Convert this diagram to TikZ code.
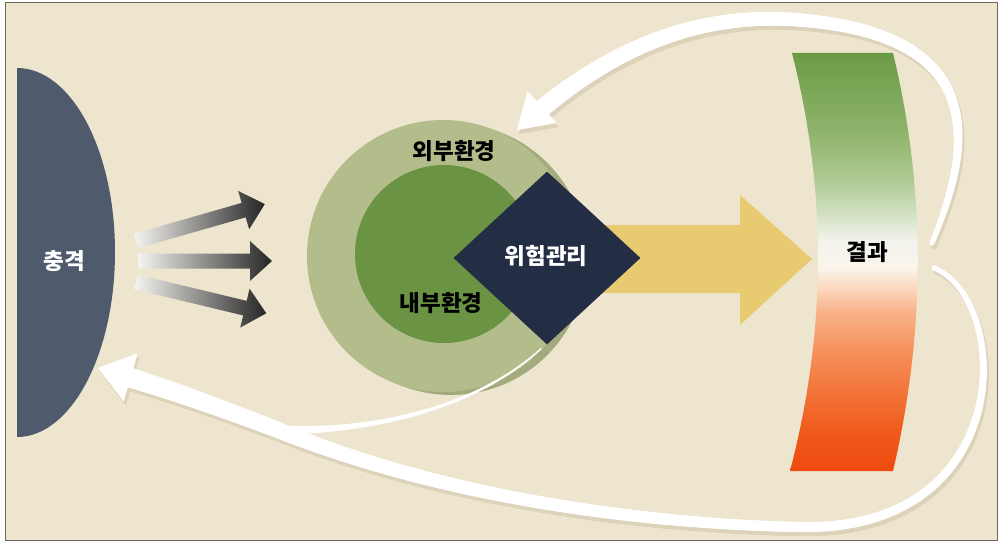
\documentclass[tikz,border=0pt]{standalone}
\usepackage{fontspec}
\newfontfamily\kr{Noto Sans CJK KR}
\usetikzlibrary{shapes.geometric,arrows.meta,decorations.markings}
\definecolor{bgc}{HTML}{EEE5CF}
\definecolor{framec}{HTML}{6E675C}
\definecolor{shockc}{HTML}{4F5B6D}
\definecolor{shockL}{HTML}{F6F4EF}
\definecolor{shockR}{HTML}{262626}
\definecolor{outerc}{HTML}{B3BD8B}
\definecolor{outershc}{HTML}{A3AA7C}
\definecolor{innerc}{HTML}{6A9343}
\definecolor{riskc}{HTML}{232D44}
\definecolor{yelc}{HTML}{E8CB70}
\definecolor{shadowc}{HTML}{DDD3BA}
\definecolor{rs1}{HTML}{EE4A10}
\definecolor{rs2}{HTML}{EF5516}
\definecolor{rs3}{HTML}{F26F33}
\definecolor{rs4}{HTML}{F5915C}
\definecolor{rs5}{HTML}{F9B58E}
\definecolor{rs6}{HTML}{FCDCC4}
\definecolor{rs7}{HTML}{FAF4EC}
\definecolor{rs8}{HTML}{F2F3EC}
\definecolor{rs9}{HTML}{D9E5CC}
\definecolor{rs10}{HTML}{AFC993}
\definecolor{rs11}{HTML}{8DB36A}
\definecolor{rs12}{HTML}{6B9A45}
\pgfdeclareverticalshading{resultshade}{100bp}{color(0bp)=(rs1); color(25bp)=(rs1); color(28.7bp)=(rs2); color(33.5bp)=(rs3); color(39.5bp)=(rs4); color(44.3bp)=(rs5); color(47.2bp)=(rs6); color(49.3bp)=(rs7); color(52.6bp)=(rs8); color(55bp)=(rs9); color(59.8bp)=(rs10); color(65.8bp)=(rs11); color(75bp)=(rs12); color(100bp)=(rs12)}
\tikzset{
  taper/.style n args={5}{decoration={markings,
      mark=between positions 0 and #5 step 1.2pt with {%
        \pgfmathsetmacro\myf{\pgfkeysvalueof{/pgf/decoration/mark info/distance from start}/\pgfdecoratedpathlength}%
        \pgfmathsetmacro\myr{#1+(#2-#1)*(1-(1-\myf)^3)+(#3-#2)*\myf^4}%
        \fill[#4] (0,0) circle[radius=\myr pt];}},
    decorate},
  tophead/.style={-{Triangle[length=34pt,width=43pt]}},
  bothead/.style={-{Triangle[length=34pt,width=50pt]}},
  krtext/.style={font=\kr\bfseries\fontsize{22.5}{26}\selectfont, inner sep=0},
  shockarrow/.pic={\shade[left color=shockL, right color=shockR]
    (0,-7.5) -- (112,-7.5) -- (112,-20) -- (134,0) -- (112,20) -- (112,7.5) -- (0,7.5) -- cycle;}
}
\begin{document}
\begin{tikzpicture}[x=1pt,y=-1pt]
\useasboundingbox (0,0) rectangle (1001,543);
\fill[white] (0,0) rectangle (1001,543);
\fill[bgc] (5,3) rectangle (997,540);
\draw[framec, line width=1pt] (5,3) rectangle (997,540);

% connector end points
\coordinate (topS) at (932,243);
\coordinate (topM) at (800,20);
\coordinate (envTip) at (517,130);
\coordinate (botS) at (934,268);
\coordinate (botM) at (800,527);
\coordinate (merge) at (278,430);
\coordinate (shockTip) at (98,368);

% shadows of the white arrows
\begin{scope}[transform canvas={shift={(2pt,-4pt)}}]
\path[taper={2.5}{7}{9.5}{shadowc}{-24pt}] (topS) .. controls (975,140) and (985,35) .. (topM) .. controls (700,12) and (610,45) .. (envTip);
\draw[shadowc, line width=0.4pt, tophead] (topS) .. controls (975,140) and (985,35) .. (topM) .. controls (700,12) and (610,45) .. (envTip);
\path[taper={2.5}{6}{10.5}{shadowc}{-24pt}] (botS) .. controls (1012,300) and (1018,532) .. (botM) .. controls (650,524) and (450,500) .. (merge) .. controls (200,400) and (150,383) .. (shockTip);
\draw[shadowc, line width=0.4pt, bothead] (botS) .. controls (1012,300) and (1018,532) .. (botM) .. controls (650,524) and (450,500) .. (merge) .. controls (200,400) and (150,383) .. (shockTip);
\end{scope}

% shock
\fill[shockc] (17,68) .. controls (71.1,68) and (115,149.8) .. (115,252) .. controls (115,354.2) and (71.1,437) .. (17,437) -- cycle;
\node[krtext, text=white] (shock) at (64,261) {충격};
\pic[rotate=16] (sa1) at (136,241) {shockarrow};
\pic (sa2) at (138,261) {shockarrow};
\pic[rotate=-13.5] (sa3) at (136,282) {shockarrow};

% environments
\node[circle, fill=outershc, minimum size=272pt, inner sep=0] (outersh) at (451,259) {};
\node[circle, fill=outerc, minimum size=272pt, inner sep=0] (outer) at (443,256) {};
\node[circle, fill=innerc, minimum size=178pt, inner sep=0] (inner) at (444,254) {};
\node[krtext] (outerlbl) at (454,151) {외부환경};
\node[krtext] (innerlbl) at (441,303) {내부환경};

% yellow arrow and risk management
\fill[yelc] (600,225) -- (740,225) -- (740,195) -- (812,259) -- (740,325) -- (740,293) -- (600,293) -- cycle;
\node[diamond, fill=riskc, minimum width=187pt, minimum height=173pt, inner sep=0, aspect=1] (risk) at (547,258) {};
\node[krtext, text=white] (risklbl) at (546,256) {위험관리};
\coordinate (riskS) at ([xshift=-6pt,yshift=-4pt]risk.south);

% result band
\path[shading=resultshade] (792,53) -- (893,53) .. controls (926,190) and (926,330) .. (893,471) -- (790,471) .. controls (827,330) and (827,190) .. (792,53) -- cycle;
\node[krtext] (result) at (867,252) {결과};

% white feedback arrows
\path[taper={2.5}{7}{9.5}{white}{-24pt}] (topS) .. controls (975,140) and (985,35) .. (topM) .. controls (700,12) and (610,45) .. (envTip);
\draw[white, line width=0.4pt, tophead] (topS) .. controls (975,140) and (985,35) .. (topM) .. controls (700,12) and (610,45) .. (envTip);
\path[taper={2.5}{6}{10.5}{white}{-24pt}] (botS) .. controls (1012,300) and (1018,532) .. (botM) .. controls (650,524) and (450,500) .. (merge) .. controls (200,400) and (150,383) .. (shockTip);
\draw[white, line width=0.4pt, bothead] (botS) .. controls (1012,300) and (1018,532) .. (botM) .. controls (650,524) and (450,500) .. (merge) .. controls (200,400) and (150,383) .. (shockTip);
\path[taper={1}{2}{5}{white}{1}] (riskS) .. controls (480,405) and (380,432) .. (merge);
\end{tikzpicture}
\end{document}
